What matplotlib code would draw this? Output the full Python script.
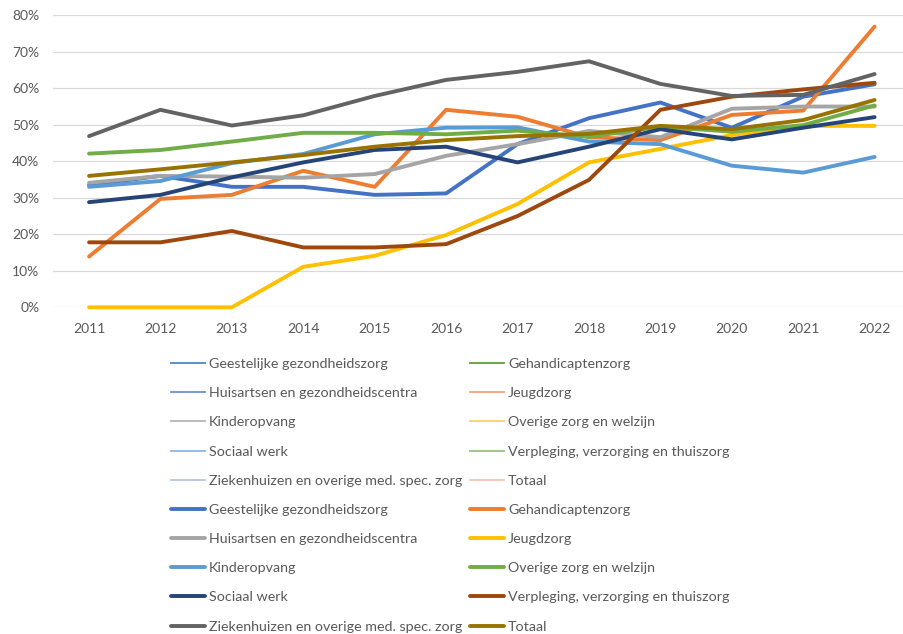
import matplotlib.pyplot as plt
from matplotlib.ticker import PercentFormatter

plt.rcParams['font.family'] = ['Lato', 'DejaVu Sans']

years = [2011, 2012, 2013, 2014, 2015, 2016, 2017, 2018, 2019, 2020, 2021, 2022]

sectors = ['Geestelijke gezondheidszorg', 'Gehandicaptenzorg', 'Huisartsen en gezondheidscentra',
           'Jeugdzorg', 'Kinderopvang', 'Overige zorg en welzijn', 'Sociaal werk',
           'Verpleging, verzorging en thuiszorg', 'Ziekenhuizen en overige med. spec. zorg', 'Totaal']

# share per year (fraction)
ggz = [0.335, 0.360, 0.330, 0.330, 0.308, 0.312, 0.447, 0.518, 0.561, 0.492, 0.577, 0.611]
ghz = [0.139, 0.297, 0.308, 0.374, 0.330, 0.541, 0.522, 0.466, 0.458, 0.527, 0.539, 0.769]
huisarts = [0.341, 0.360, 0.358, 0.355, 0.365, 0.415, 0.447, 0.483, 0.466, 0.544, 0.550, 0.550]
jeugd = [0.0, 0.0, 0.0, 0.111, 0.141, 0.198, 0.283, 0.397, 0.434, 0.472, 0.497, 0.497]
kinderopvang = [0.330, 0.346, 0.395, 0.420, 0.474, 0.492, 0.493, 0.454, 0.447, 0.388, 0.369, 0.412]
overige = [0.421, 0.431, 0.454, 0.478, 0.478, 0.474, 0.484, 0.467, 0.495, 0.481, 0.499, 0.553]
sociaal = [0.288, 0.308, 0.356, 0.397, 0.431, 0.440, 0.397, 0.440, 0.488, 0.460, 0.492, 0.521]
verpleging = [0.178, 0.178, 0.209, 0.164, 0.164, 0.173, 0.250, 0.349, 0.541, 0.577, 0.597, 0.615]
ziekenhuis = [0.469, 0.541, 0.498, 0.526, 0.579, 0.623, 0.645, 0.674, 0.612, 0.579, 0.582, 0.639]
totaal = [0.360, 0.378, 0.397, 0.417, 0.440, 0.458, 0.469, 0.475, 0.497, 0.488, 0.513, 0.568]

series = [ggz, ghz, huisarts, jeugd, kinderopvang, overige, sociaal, verpleging, ziekenhuis, totaal]
colors = ['#4472C4', '#ED7D31', '#A5A5A5', '#FFC000', '#5B9BD5',
          '#70AD47', '#264478', '#9E480E', '#636363', '#997300']
# legend-only entries of the hidden series
thin_colors = ['#4F86C6', '#5E9E3E', '#6F8ED6', '#F4A27A', '#B5B5B5',
               '#FFD16A', '#8CB6E2', '#93C47D', '#B4C2E6', '#F7C4B4']

fig = plt.figure(figsize=(9.04, 6.34), dpi=100)
ax = fig.add_axes([0.059, 0.5153, 0.948, 0.4606])

thin_handles = []
for name, c in zip(sectors, thin_colors):
    h, = ax.plot([], [], color=c, lw=1.3, label=name)
    thin_handles.append(h)

thick_handles = []
for name, vals, c in zip(sectors, series, colors):
    h, = ax.plot(years, vals, color=c, lw=2.8, label=name, clip_on=False,
                 solid_joinstyle='round', solid_capstyle='round')
    thick_handles.append(h)

ax.set_xlim(2010.5, 2022.5)
ax.set_ylim(0, 0.8)
ax.set_xticks(years)
ax.set_yticks([i / 10 for i in range(9)])
ax.yaxis.set_major_formatter(PercentFormatter(1.0, decimals=0))
ax.grid(axis='y', color='#D9D9D9', lw=0.9)
ax.set_axisbelow(True)
for s in ax.spines.values():
    s.set_visible(False)
ax.tick_params(axis='both', length=0, labelsize=10, labelcolor='#595959')
ax.tick_params(axis='y', pad=10)
ax.tick_params(axis='x', pad=11)

# two-column legend below the plot
order1 = [0, 2, 4, 6, 8]
order2 = [1, 3, 5, 7, 9]
col1 = [thin_handles[i] for i in order1] + [thick_handles[i] for i in order1]
col2 = [thin_handles[i] for i in order2] + [thick_handles[i] for i in order2]
kw = dict(loc='upper left', frameon=False, fontsize=10.3, handlelength=2.4,
          handletextpad=0.27, labelspacing=1.2, borderpad=0, borderaxespad=0,
          labelcolor='#595959')
fig.legend(handles=col1, bbox_to_anchor=(171 / 904, 1 - 358 / 634), **kw)
fig.legend(handles=col2, bbox_to_anchor=(470 / 904, 1 - 358 / 634), **kw)

fig.savefig('out.png', dpi=100)
